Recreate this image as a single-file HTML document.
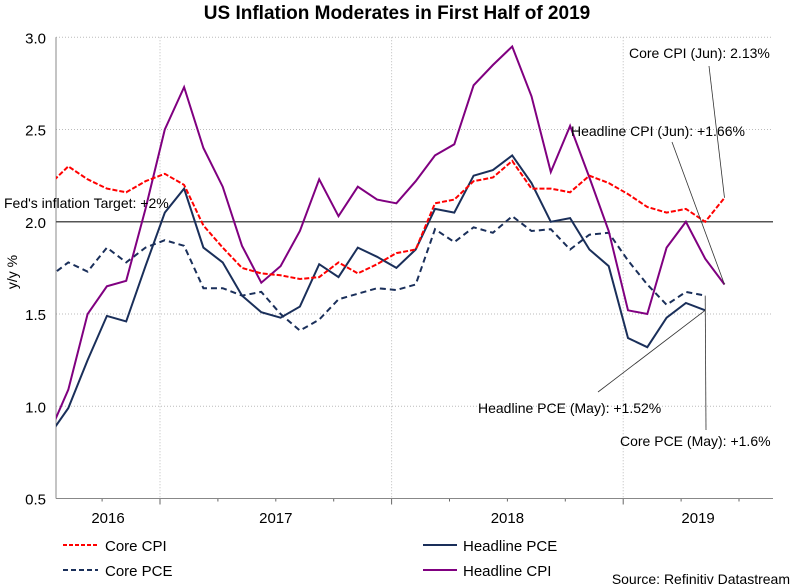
<!DOCTYPE html>
<html><head><meta charset="utf-8"><style>
body{margin:0;background:#fff;}
svg{display:block;font-family:"Liberation Sans",Arial,sans-serif;}
</style></head><body>
<svg id="chart" width="795" height="588" viewBox="0 0 795 588">
<text x="397" y="19" text-anchor="middle" font-size="19" font-weight="bold">US Inflation Moderates in First Half of 2019</text>
<g id="grid"></g>
<g id="axes"></g>
<g id="series"></g>
<g id="annot"></g>
<g font-size="15">
<g><line x1="63" y1="545" x2="98" y2="545" stroke="#ff0000" stroke-width="2" stroke-dasharray="4,2"/><text x="105" y="551">Core CPI</text></g>
<g><line x1="63" y1="570" x2="98" y2="570" stroke="#1a2f5a" stroke-width="2" stroke-dasharray="5,3"/><text x="105" y="576">Core PCE</text></g>
<g><line x1="423" y1="545" x2="457" y2="545" stroke="#1a2f5a" stroke-width="2"/><text x="463" y="551">Headline PCE</text></g>
<g><line x1="423" y1="570" x2="457" y2="570" stroke="#800080" stroke-width="2"/><text x="463" y="576">Headline CPI</text></g>
</g>
<text x="790" y="584" text-anchor="end" font-size="14">Source: Refinitiv Datastream</text>
</svg>
<script>
// months: index 0 = Jul 2016 ... 35 = Jun 2019
const yTicks = [0.5, 1.0, 1.5, 2.0, 2.5, 3.0];
const yTickLabels = ["0.5", "1.0", "1.5", "2.0", "2.5", "3.0"];
const yearLabels = ["2016", "2017", "2018", "2019"];
const yearFirstMonth = [-6, 6, 18, 30];
const yearStartMonth = [6, 18, 30];
const headlineCPI = [0.85,1.09,1.50,1.65,1.68,2.07,2.50,2.73,2.40,2.19,1.87,1.67,1.76,1.95,2.23,2.03,2.19,2.12,2.10,2.22,2.36,2.42,2.74,2.85,2.95,2.68,2.27,2.52,2.24,1.95,1.52,1.50,1.86,2.00,1.80,1.66];
const coreCPI = [2.20,2.30,2.23,2.18,2.16,2.22,2.26,2.20,1.98,1.86,1.75,1.72,1.71,1.69,1.70,1.78,1.72,1.77,1.83,1.85,2.10,2.12,2.22,2.24,2.33,2.18,2.18,2.16,2.25,2.21,2.15,2.08,2.05,2.07,2.00,2.13];
const headlinePCE = [0.84,0.99,1.25,1.49,1.46,1.76,2.05,2.18,1.86,1.78,1.60,1.51,1.48,1.54,1.77,1.70,1.86,1.81,1.75,1.85,2.07,2.05,2.25,2.28,2.36,2.21,2.00,2.02,1.85,1.76,1.37,1.32,1.48,1.56,1.52];
const corePCE = [1.70,1.78,1.73,1.86,1.78,1.86,1.90,1.87,1.64,1.64,1.60,1.62,1.50,1.41,1.47,1.58,1.61,1.64,1.63,1.66,1.96,1.89,1.97,1.94,2.03,1.95,1.96,1.85,1.93,1.94,1.79,1.66,1.55,1.62,1.60];
const fedTarget = 2.0;

const NS="http://www.w3.org/2000/svg";
const L=56,R=773,T=37.3,B=498.5;
const x=i=>49+i*19.3;
const y=v=>T+(3-v)*(B-T)/2.5;
function mk(tag,attrs,parent,txt){const e=document.createElementNS(NS,tag);for(const k in attrs)e.setAttribute(k,attrs[k]);if(txt!==undefined)e.textContent=txt;parent.appendChild(e);return e;}
const grid=document.getElementById('grid'),axes=document.getElementById('axes'),ser=document.getElementById('series'),ann=document.getElementById('annot');
const defs=mk('defs',{},document.getElementById('chart'));
const cp=mk('clipPath',{id:'plotclip'},defs);mk('rect',{x:L,y:T-5,width:R-L,height:B-T+10},cp);
yTicks.forEach((v,k)=>{
  if(k>0){const g=mk('line',{x1:L,x2:R,y1:y(v),y2:y(v),stroke:'#bbb','stroke-dasharray':'1,2'},grid);
  
  }
  const t=mk('text',{x:46,y:y(v)+6,'text-anchor':'end','font-size':15},axes,yTickLabels[k]);
  
  
});
yearStartMonth.forEach(m=>{
  const g=mk('line',{x1:x(m)-4.8,x2:x(m)-4.8,y1:T,y2:B,stroke:'#bbb','stroke-dasharray':'1,2'},grid);
  
  
});
for(let m=3;m<=36;m+=3){const xx=x(m)-4.8;if(xx>L&&xx<R){const t=mk('line',{x1:xx,x2:xx,y1:B,y2:B+(m%12==6?6:3),stroke:'#666'},axes);
  
  }}
yearLabels.forEach((s,k)=>{
  const a=Math.max(L,x(yearFirstMonth[k])-4.8), b=Math.min(R,x(yearFirstMonth[k]+12)-4.8);
  const t=mk('text',{x:(a+b)/2,y:523,'text-anchor':'middle','font-size':15},axes,s);
  
  
});
mk('line',{x1:L,x2:L,y1:T,y2:B,stroke:'#888'},axes);
mk('line',{x1:L,x2:R,y1:B,y2:B,stroke:'#888'},axes);
const yl=mk('text',{x:0,y:0,transform:'translate(17,272) rotate(-90)','text-anchor':'middle','font-size':14},axes,'y/y %');


const fl=mk('line',{x1:L,x2:R,y1:y(fedTarget),y2:y(fedTarget),stroke:'#555','stroke-width':1.5},ser);


function line(data,color,dash,name){
  const d=data.map((v,i)=>(i?'L':'M')+x(i).toFixed(1)+','+y(v).toFixed(1)).join('');
  const p=mk('path',{d:d,fill:'none',stroke:color,'stroke-width':2,'clip-path':'url(#plotclip)'},ser);
  if(dash)p.setAttribute('stroke-dasharray',dash);
  
  
}
line(corePCE,'#1a2f5a','6,4','core-pce-line');
line(headlinePCE,'#1a2f5a',null,'headline-pce-line');
line(headlineCPI,'#800080',null,'headline-cpi-line');
line(coreCPI,'#ff0000','5,2','core-cpi-line');
function note(tx,ty,txt,x1,y1,x2,y2,name){
  mk('line',{x1:x1,y1:y1,x2:x2,y2:y2,stroke:'#333','stroke-width':0.8},ann);
  const t=mk('text',{x:tx,y:ty,'font-size':14},ann,txt);
  
  
}
const lc=coreCPI.length-1,lh=headlineCPI.length-1,lp=headlinePCE.length-1,lq=corePCE.length-1;
note(629,58,'Core CPI (Jun): 2.13%',709,66,x(lc),y(coreCPI[lc]),'core-cpi-annotation');
note(571,136,'Headline CPI (Jun): +1.66%',672,142,x(lh),y(headlineCPI[lh]),'headline-cpi-annotation');
note(478,413,'Headline PCE (May): +1.52%',598,392,x(lp),y(headlinePCE[lp]),'headline-pce-annotation');
note(620,446,'Core PCE (May): +1.6%',706,430,x(lq),y(corePCE[lq]),'core-pce-annotation');
const ft=mk('text',{x:4,y:208,'font-size':14},ann,"Fed's inflation Target: +2%");


</script>
</body></html>
